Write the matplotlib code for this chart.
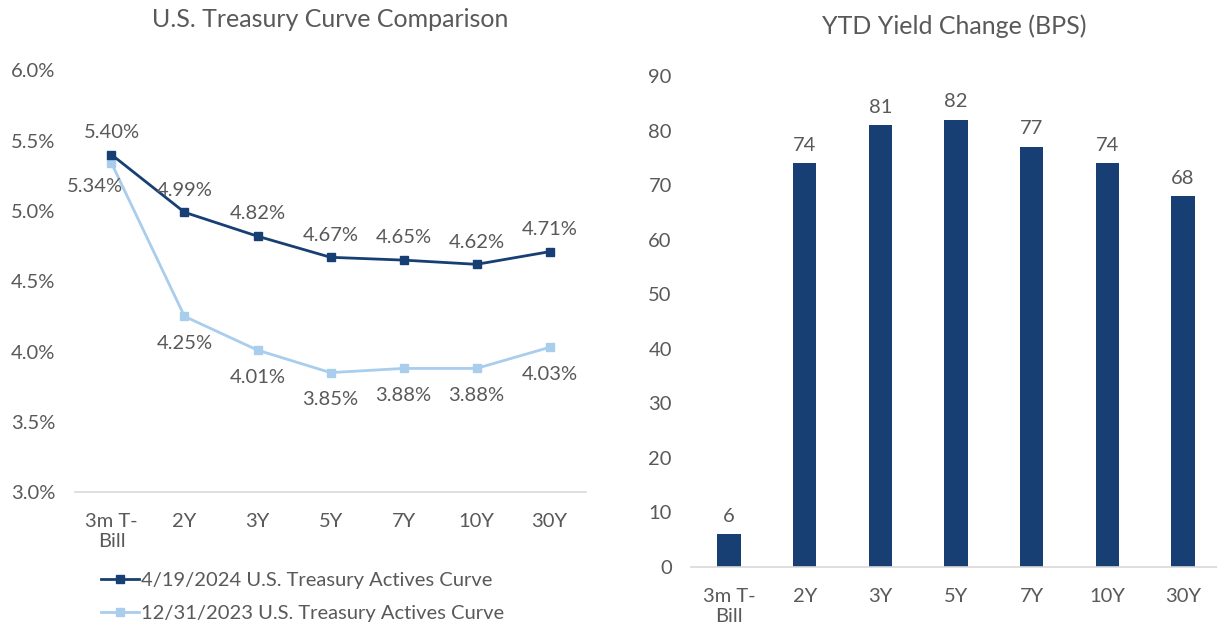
import matplotlib
matplotlib.use("Agg")
import matplotlib.pyplot as plt
from matplotlib.lines import Line2D
import numpy as np

plt.rcParams['font.family'] = ['Lato', 'DejaVu Sans']

# data
tenors = ["3m T-\nBill", "2Y", "3Y", "5Y", "7Y", "10Y", "30Y"]
curve_apr = [5.40, 4.99, 4.82, 4.67, 4.65, 4.62, 4.71]
curve_dec = [5.34, 4.25, 4.01, 3.85, 3.88, 3.88, 4.03]
ytd_change = [6, 74, 81, 82, 77, 74, 68]
label_apr = "4/19/2024 U.S. Treasury Actives Curve"
label_dec = "12/31/2023 U.S. Treasury Actives Curve"

DARK = "#173f73"
LIGHT = "#a9cdec"
TXT = "#595959"
AXIS = "#d9d9d9"
FS = 14.5

fig = plt.figure(figsize=(12.17, 6.27), dpi=100)

# ---- left: curve comparison
ax1 = fig.add_axes([0.0616, 0.215, 0.42, 0.673])
x = np.arange(len(tenors))
ax1.plot(x, curve_dec, color=LIGHT, lw=2, marker="s", ms=6, zorder=2)
ax1.plot(x, curve_apr, color=DARK, lw=2, marker="s", ms=6, zorder=3)

for i, v in enumerate(curve_apr):
    ax1.annotate("{:.2f}%".format(v), (i, v), xytext=(0, 16),
                 textcoords="offset points", ha="center", va="center",
                 fontsize=FS, color=TXT)
for i, v in enumerate(curve_dec):
    off = (-12, 17) if i == 0 else (0, 19.5)
    ax1.annotate("{:.2f}%".format(v), (i, v), xytext=(off[0], -off[1]),
                 textcoords="offset points", ha="center", va="center",
                 fontsize=FS, color=TXT)

ax1.set_ylim(3.0, 6.0)
ax1.set_yticks(np.arange(3.0, 6.01, 0.5))
ax1.set_yticklabels(["{:.1f}%".format(t) for t in np.arange(3.0, 6.01, 0.5)])
ax1.set_xlim(-0.5, len(tenors) - 0.5)
ax1.set_xticks(x)
ax1.set_xticklabels(tenors)
ax1.set_title("U.S. Treasury Curve Comparison", fontsize=18, color=TXT,
              pad=31)

handles = [Line2D([], [], color=DARK, lw=2, marker="s", ms=6),
           Line2D([], [], color=LIGHT, lw=2, marker="s", ms=6)]
ax1.legend(handles, [label_apr, label_dec], loc="upper left",
           bbox_to_anchor=(0.035, -0.17), frameon=False, fontsize=FS,
           labelcolor=TXT, handlelength=1.9, handletextpad=0.1,
           labelspacing=0.8, borderaxespad=0)

# ---- right: ytd change bars
ax2 = fig.add_axes([0.568, 0.0957, 0.432, 0.783])
ax2.bar(x, ytd_change, width=0.31, color=DARK, zorder=2)
for i, v in enumerate(ytd_change):
    ax2.annotate(str(v), (i, v), xytext=(0, 13), textcoords="offset points",
                 ha="center", va="center", fontsize=FS, color=TXT)
ax2.set_ylim(0, 90)
ax2.set_yticks(range(0, 91, 10))
ax2.set_xlim(-0.5, len(tenors) - 0.55)
ax2.set_xticks(x)
ax2.set_xticklabels(tenors)
ax2.set_title("YTD Yield Change (BPS)", fontsize=18, color=TXT, pad=30)

for ax in (ax1, ax2):
    for s in ("top", "right", "left"):
        ax.spines[s].set_visible(False)
    ax.spines["bottom"].set_color(AXIS)
    ax.spines["bottom"].set_linewidth(1.2)
    ax.tick_params(axis="both", length=0, labelsize=FS, labelcolor=TXT)
    ax.tick_params(axis="y", pad=14)
    ax.tick_params(axis="x", pad=15)
    ax.set_facecolor("none")

fig.savefig("out.png", dpi=100)
